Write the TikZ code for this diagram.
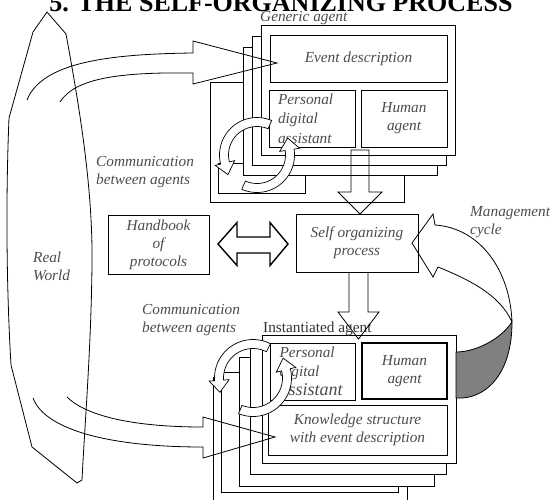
\documentclass[tikz,border=0pt]{standalone}
\usepackage{fontspec}
\setmainfont{Liberation Serif}
\definecolor{txtgray}{gray}{0.3}
\newcommand{\lblfont}{\fontsize{15.3}{18}\selectfont\itshape}

% one half of a cycle symbol: centre x, centre y, radius, start angle, end angle
\newcommand{\ringarrow}[5]{%
  \draw[fill=white,line width=0.7pt]
    plot[domain=#4:#5,samples=30] ({#1+(#3+4.5)*cos(\x)},{#2+(#3+4.5)*sin(\x)})
    -- ({#1+(#3+10)*cos(#5)},{#2+(#3+10)*sin(#5)})
    -- ({#1+#3*cos(#5)+12*sin(#5)},{#2+#3*sin(#5)-12*cos(#5)})
    -- ({#1+(#3-10)*cos(#5)},{#2+(#3-10)*sin(#5)})
    -- plot[domain=#5:#4,samples=30] ({#1+(#3-4.5)*cos(\x)},{#2+(#3-4.5)*sin(\x)})
    -- cycle;}

\begin{document}
\begin{tikzpicture}[x=1pt,y=-1pt,
    card/.style={draw,fill=white,line width=1pt},
    box/.style={draw,line width=1pt,font=\lblfont,text=txtgray,inner sep=0pt},
    lbl/.style={font=\lblfont,text=txtgray,inner sep=0pt},
    blockarrow/.style={draw,line width=0.8pt,line join=miter}]
  \useasboundingbox (0,0) rectangle (551,499);
  \clip (0,0) rectangle (551,499);

  \node[font=\fontsize{26}{30}\selectfont\bfseries,anchor=base] (title) at (281,11) {5. THE SELF-ORGANIZING PROCESS};

  % generic agent stack
  \draw[card] (210,82) rectangle (404,202);
  \draw[card] (218,163) rectangle (305,193);
  \draw[card] (243,47) rectangle (437,175);
  \draw[card] (252,36) rectangle (446,165);
  \draw[card] (261,25) rectangle (455,155);
  \node[box,minimum width=177,minimum height=47] (event) at (358.5,58.5) {Event description};
  \node[box,minimum width=86,minimum height=57,text width=68,align=left,font=\fontsize{15.3}{19.5}\selectfont\itshape] (pdaA) at (312,118.5) {Personal\\digital\\assistant};
  \node[box,minimum width=86,minimum height=57,align=center] (humanA) at (404,118.5) {Human\\agent};
  \node[lbl,anchor=base west] (generic) at (260,21) {Generic agent};

  % middle row
  \node[box,line width=0.8pt,minimum width=101,minimum height=59,align=center] (handbook) at (158.5,244.5) {Handbook\\of\\protocols};
  \node[box,minimum width=122,minimum height=58,align=center] (selfproc) at (357,243) {Self organizing\\process};

  % instantiated agent stack
  \draw[card] (213,377) rectangle (407,520);
  \draw[card] (221,372) rectangle (398,492);
  \draw[card] (239,357) rectangle (434,486);
  \draw[card] (250,345) rectangle (446,474);
  \draw[card] (262,335) rectangle (456,463);
  \node[box,minimum width=85,minimum height=57,text width=66,align=left,font=\fontsize{15.3}{19}\selectfont\itshape] (pdaB) at (312.5,371.5) {Personal\\digital\\{\fontsize{18}{19}\selectfont assistant}};
  \node[box,line width=1.4pt,minimum width=85,minimum height=56,align=center] (humanB) at (404.5,371) {Human\\agent};
  \node[box,minimum width=179,minimum height=50,align=center] (knowledge) at (357.5,430) {Knowledge structure\\with event description};
  \node[lbl,anchor=base west,font=\fontsize{15.3}{18}\selectfont,text=black!80] (inst) at (263,332) {Instantiated agent};

  % free labels
  \node[lbl,anchor=west,align=left] (commA) at (96,172) {Communication\\between agents};
  \node[lbl,anchor=west,align=left] (commB) at (142,320) {Communication\\between agents};
  \node[lbl,anchor=west,align=left] (real) at (33,266) {Real\\World};
  \node[lbl,anchor=west,align=left] (mgmt) at (470,222) {Management\\cycle};

  % real world outline
  \draw[line width=0.8pt] (47,12) -- (66,34) .. controls (80,110) and (93,190) .. (92,265)
    .. controls (91,350) and (85,420) .. (82,480) -- (77,483) -- (32,447) -- (11,365)
    .. controls (6,280) and (6,190) .. (9,118) -- (33,32) -- cycle;

  % flows from the real world
  \draw[blockarrow] (27,100) .. controls (42,62) and (110,54) .. (193,53) -- (193,41) -- (277,63)
    -- (193,84) -- (193,73) .. controls (120,72) and (75,78) .. (60,102);
  \draw[blockarrow] (67,397) .. controls (85,415) and (130,427) .. (203,427) -- (203,417) -- (275,437)
    -- (203,458) -- (203,447) .. controls (110,447) and (45,430) .. (33,398);

  % vertical flow
  \draw[blockarrow] (351,150) -- (351,192) -- (338,192) -- (360,214) -- (382,192) -- (369,192) -- (369,150) -- cycle;
  \draw[blockarrow] (349,272) -- (349,312) -- (338,312) -- (358.5,339) -- (379,312) -- (368,312) -- (368,272);
  \draw[blockarrow,line width=1.4pt] (218,244) -- (237,222.5) -- (237,237) -- (270,237) -- (270,222.5) -- (288,244)
    -- (270,265.5) -- (270,253) -- (237,253) -- (237,265.5) -- cycle;

  % management cycle
  \draw[fill=black!50,line width=0.8pt] (512,322) .. controls (500,340) and (475,352) .. (456,352) -- (456,398)
    .. controls (485,400) and (512,375) .. (512,322) -- cycle;
  \draw[blockarrow] (512,322) .. controls (510,270) and (480,228) .. (435,225) -- (433,214) -- (412,243)
    -- (433,277) -- (438,267) .. controls (470,280) and (500,295) .. (512,322);

  % communication between agents
  \ringarrow{257}{155}{33}{-67}{-194}
  \ringarrow{257}{155}{33}{114}{-9}
  \ringarrow{253}{378}{34}{-63}{-184}
  \ringarrow{253}{378}{34}{112}{-14}
\end{tikzpicture}
\end{document}
